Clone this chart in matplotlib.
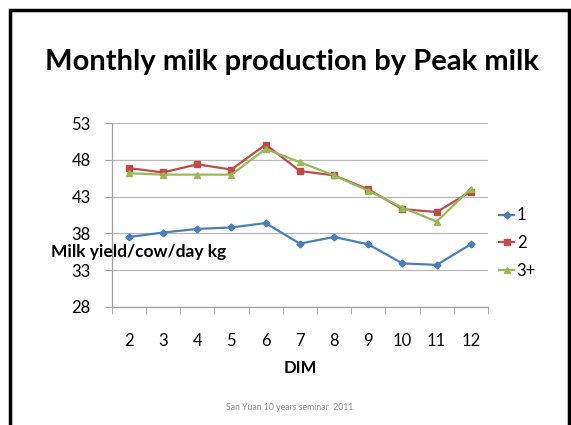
import matplotlib.pyplot as plt
from matplotlib.patches import Rectangle

# Monthly milk yield (kg/cow/day) by DIM month, grouped by peak-milk class
dim_months = [2, 3, 4, 5, 6, 7, 8, 9, 10, 11, 12]
peak_1 = [37.5, 38.1, 38.6, 38.8, 39.4, 36.6, 37.5, 36.5, 33.9, 33.7, 36.5]
peak_2 = [46.9, 46.3, 47.4, 46.7, 50.1, 46.5, 45.9, 44.0, 41.3, 40.9, 43.7]
peak_3 = [46.2, 46.0, 46.0, 46.0, 49.5, 47.7, 45.9, 43.8, 41.5, 39.6, 44.1]
series_names = ["1", "2", "3+"]
y_ticks = [28, 33, 38, 43, 48, 53]

FONT = "Lato"
colours = ["#4A7EBB", "#BE4B48", "#98B954"]
markers = ["D", "s", "^"]
msizes = [3.5, 5, 5]

fig = plt.figure(figsize=(5.71, 4.25), dpi=100)

# slide frame (open at the bottom)
fig.patches.append(Rectangle((10 / 571, -0.05), 559 / 571, 1 - 10 / 425 + 0.05,
                             transform=fig.transFigure, fill=False,
                             edgecolor="black", lw=2.5))

fig.text(0.512, 1 - 62 / 425, "Monthly milk production by Peak milk",
         ha="center", va="center", fontsize=21, fontweight="bold", family=FONT)

ax = fig.add_axes([0.1956, 0.2784, 0.659, 0.4315])
x = list(range(len(dim_months)))
for vals, name, c, m, ms in zip([peak_1, peak_2, peak_3], series_names,
                                colours, markers, msizes):
    ax.plot(x, vals, color=c, marker=m, markersize=ms, lw=1.6, label=name)

ax.set_xlim(-0.5, len(dim_months) - 0.5)
ax.set_ylim(28, 53)
ax.set_yticks(y_ticks)
ax.set_yticklabels([str(t) for t in y_ticks], family=FONT, fontsize=12)
ax.set_xticks(x)
ax.set_xticklabels([str(d) for d in dim_months], family=FONT, fontsize=12)
ax.tick_params(axis="x", length=0, pad=19)
ax.tick_params(axis="y", length=5, color="#A0A0A0", pad=10)

# category boundary ticks below the x axis
ax.set_xticks([i - 0.5 for i in range(len(dim_months) + 1)], minor=True)
ax.tick_params(axis="x", which="minor", length=5, color="#A0A0A0")

ax.grid(axis="y", color="#B8B8B8", lw=0.9)
ax.set_axisbelow(True)
for side in ["top", "right"]:
    ax.spines[side].set_visible(False)
for side in ["left", "bottom"]:
    ax.spines[side].set_color("#A0A0A0")
    ax.spines[side].set_linewidth(0.9)

ax.set_xlabel("DIM", family=FONT, fontsize=12, fontweight="bold", labelpad=8)

fig.text(51 / 571, 1 - 252 / 425, "Milk yield/cow/day kg", ha="left",
         va="center", fontsize=12.5, fontweight="bold", family=FONT)

ax.legend(loc="center left", bbox_to_anchor=(1.03, 0.347), frameon=False,
          prop={"family": FONT, "size": 12}, handlelength=0.9,
          handletextpad=0.15, labelspacing=0.7, borderaxespad=0,
          borderpad=0)

fig.text(290 / 571, 1 - 407 / 425, "San Yuan 10 years seminar  2011",
         ha="center", va="center", fontsize=6.2, color="#8C8C8C", family=FONT)

fig.savefig("out.png", dpi=100)
